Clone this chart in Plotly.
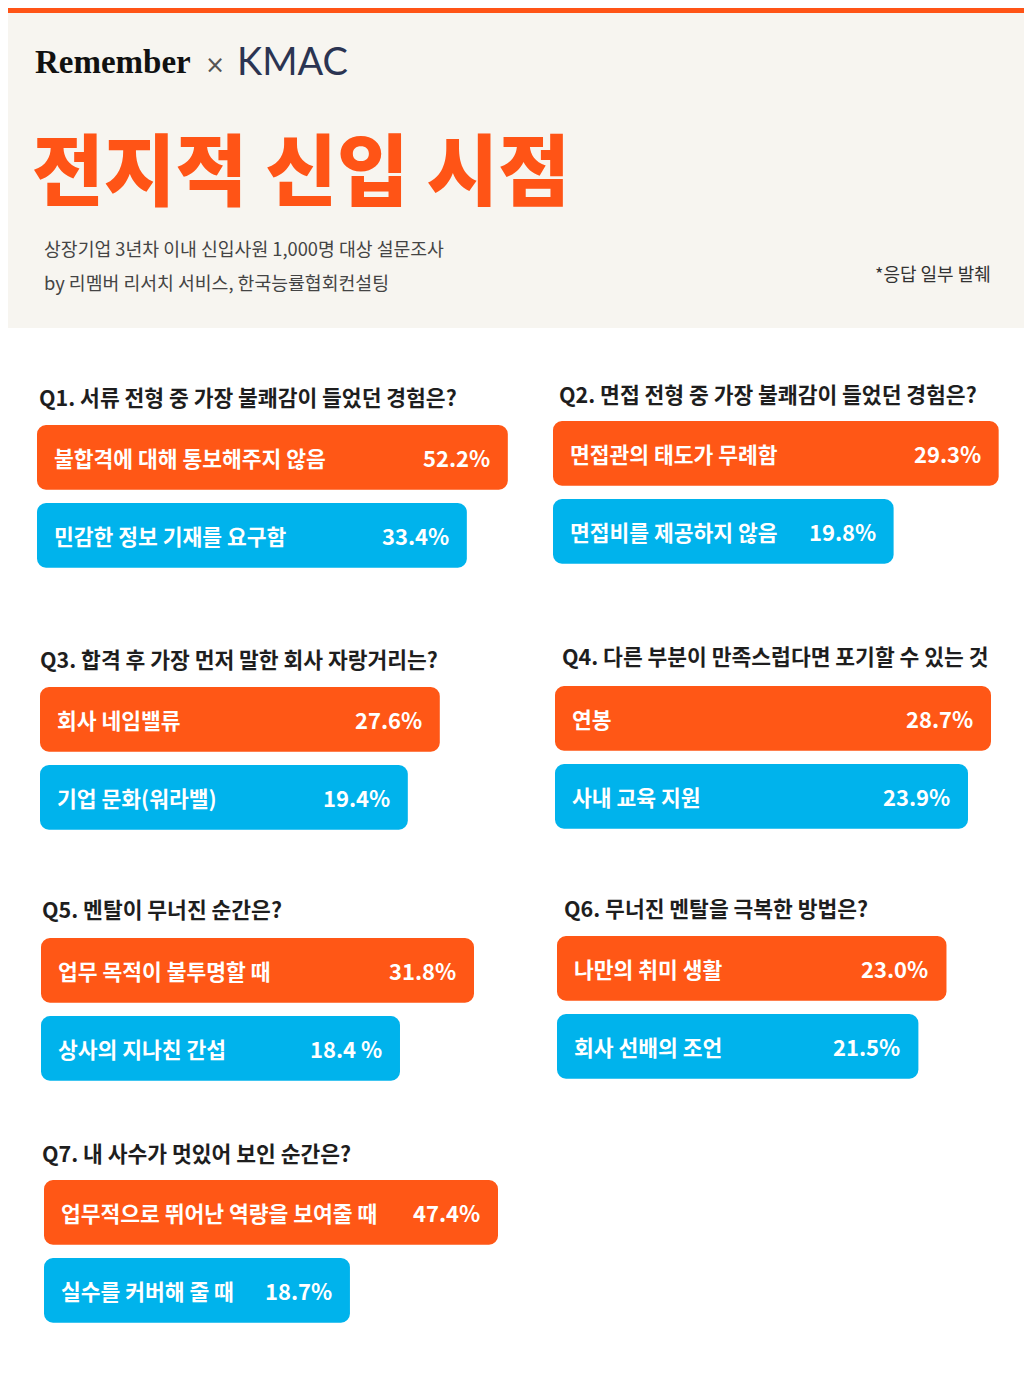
import plotly.graph_objects as go

W, H = 1035, 1387
OFF = 8  # page body margin around the figure
FIG_W, FIG_H = W - 2 * OFF, H - 2 * OFF

# survey data
questions = [
    "Q1. 서류 전형 중 가장 불쾌감이 들었던 경험은?",
    "Q2. 면접 전형 중 가장 불쾌감이 들었던 경험은?",
    "Q3. 합격 후 가장 먼저 말한 회사 자랑거리는?",
    "Q4. 다른 부분이 만족스럽다면 포기할 수 있는 것",
    "Q5. 멘탈이 무너진 순간은?",
    "Q6. 무너진 멘탈을 극복한 방법은?",
    "Q7. 내 사수가 멋있어 보인 순간은?",
]
top_answers = [
    "불합격에 대해 통보해주지 않음",
    "면접관의 태도가 무례함",
    "회사 네임밸류",
    "연봉",
    "업무 목적이 불투명할 때",
    "나만의 취미 생활",
    "업무적으로 뛰어난 역량을 보여줄 때",
]
top_values = [52.2, 29.3, 27.6, 28.7, 31.8, 23.0, 47.4]
second_answers = [
    "민감한 정보 기재를 요구함",
    "면접비를 제공하지 않음",
    "기업 문화(워라밸)",
    "사내 교육 지원",
    "상사의 지나친 간섭",
    "회사 선배의 조언",
    "실수를 커버해 줄 때",
]
second_values = [33.4, 19.8, 19.4, 23.9, 18.4, 21.5, 18.7]
top_labels = ["52.2%", "29.3%", "27.6%", "28.7%", "31.8%", "23.0%", "47.4%"]
second_labels = ["33.4%", "19.8%", "19.4%", "23.9%", "18.4 %", "21.5%", "18.7%"]

ORANGE = "#FF5716"
BLUE = "#00B3EC"
DARK = "#1e1e1e"
FONT = "Noto Sans CJK KR"

# panel placement (pixels) and hidden axis ranges
panels = [
    dict(left=37, top=425, w=490, title=(37, 396), lo=-163.8, hi=61.0),
    dict(left=553, top=421, w=470, title=(557, 393), lo=-11.0, hi=31.5),
    dict(left=40, top=687, w=470, title=(38, 658), lo=-74.9, hi=45.6),
    dict(left=555, top=686, w=470, title=(560, 655), lo=-62.3, hi=35.8),
    dict(left=41, top=938, w=470, title=(40, 908), lo=-46.6, hi=38.5),
    dict(left=557, top=936, w=470, title=(562, 907), lo=2.2, hi=27.3),
    dict(left=44, top=1180, w=470, title=(40, 1152), lo=-40.6, hi=50.5),
]
PITCH = 78
BAR_FRAC = 0.83


def fx(px):
    return min(1.0, max(0.0, (px - OFF) / FIG_W))


def fy(py):
    return min(1.0, max(0.0, 1 - (py - OFF) / FIG_H))


fig = go.Figure()
annotations = []
layout_axes = {}

for i, p in enumerate(panels):
    n = "" if i == 0 else str(i + 1)
    xa, ya = "x" + n, "y" + n
    vals = [top_values[i], second_values[i]]
    fig.add_trace(go.Bar(
        orientation="h",
        y=[0, 1],
        x=[v - p["lo"] for v in vals],
        base=p["lo"],
        width=BAR_FRAC,
        marker=dict(color=[ORANGE, BLUE], cornerradius=9, line=dict(width=0)),
        xaxis=xa, yaxis=ya,
        hoverinfo="skip",
        showlegend=False,
    ))
    ytop = p["top"] - (1 - BAR_FRAC) * PITCH / 2
    layout_axes["xaxis" + n] = dict(
        domain=[fx(p["left"]), fx(p["left"] + p["w"])],
        range=[p["lo"], p["hi"]], visible=False, fixedrange=True,
        anchor=ya,
    )
    layout_axes["yaxis" + n] = dict(
        domain=[fy(ytop + 2 * PITCH), fy(ytop)],
        range=[1.5, -0.5], visible=False, fixedrange=True,
        anchor=xa,
    )
    names = [top_answers[i], second_answers[i]]
    pcts = [top_labels[i], second_labels[i]]
    for j in range(2):
        annotations.append(dict(
            x=p["lo"], y=j, xref=xa, yref=ya, text=names[j],
            xanchor="left", yanchor="middle", xshift=15, showarrow=False,
            font=dict(family=FONT, size=21.5, color="white", weight="bold"),
        ))
        annotations.append(dict(
            x=vals[j], y=j, xref=xa, yref=ya, text=pcts[j],
            xanchor="right", yanchor="middle", xshift=-16, showarrow=False,
            font=dict(family=FONT, size=22, color="white", weight="bold"),
        ))
    tx, ty = p["title"]
    annotations.append(dict(
        x=fx(tx), y=fy(ty), xref="paper", yref="paper", text=questions[i],
        xanchor="left", yanchor="middle", showarrow=False,
        font=dict(family=FONT, size=21.5, color=DARK, weight="bold"),
    ))

# header block
header = [
    dict(x=33, y=62, text="Remember", size=33, color="#111111",
         family="Liberation Serif", weight="bold"),
    dict(x=203, y=65, text="×", size=24, color="#555555",
         family="DejaVu Sans", weight="normal"),
    dict(x=235, y=60, text="KMAC", size=38, color="#2b3452",
         family="Lato", weight="normal"),
    dict(x=30, y=166, text="전지적 신입 시점", size=78, color="#FF5416",
         family=FONT, weight=900),
    dict(x=42, y=248, text="상장기업 3년차 이내 신입사원 1,000명 대상 설문조사",
         size=18.3, color="#444444", family=FONT, weight="normal"),
    dict(x=42, y=282, text="by 리멤버 리서치 서비스, 한국능률협회컨설팅",
         size=18.3, color="#444444", family=FONT, weight="normal"),
]
for h in header:
    annotations.append(dict(
        x=fx(h["x"]), y=fy(h["y"]), xref="paper", yref="paper", text=h["text"],
        xanchor="left", yanchor="middle", showarrow=False,
        font=dict(family=h["family"], size=h["size"], color=h["color"],
                  weight=h["weight"]),
    ))
annotations.append(dict(
    x=fx(993), y=fy(273), xref="paper", yref="paper", text="*응답 일부 발췌",
    xanchor="right", yanchor="middle", showarrow=False,
    font=dict(family=FONT, size=18, color="#333333"),
))

shapes = [
    dict(type="rect", xref="paper", yref="paper", x0=fx(3), x1=fx(1024),
         y0=fy(328), y1=fy(12), fillcolor="#F7F5F0", line=dict(width=0),
         layer="below"),
    dict(type="rect", xref="paper", yref="paper", x0=fx(0), x1=fx(1024),
         y0=fy(13), y1=fy(8), fillcolor="#FF5416", line=dict(width=0),
         layer="below"),
]

fig.update_layout(
    width=FIG_W, height=FIG_H,
    margin=dict(l=0, r=0, t=0, b=0),
    paper_bgcolor="white", plot_bgcolor="rgba(0,0,0,0)",
    annotations=annotations, shapes=shapes,
    barmode="overlay",
    **layout_axes,
)

fig.write_html("out.html")
